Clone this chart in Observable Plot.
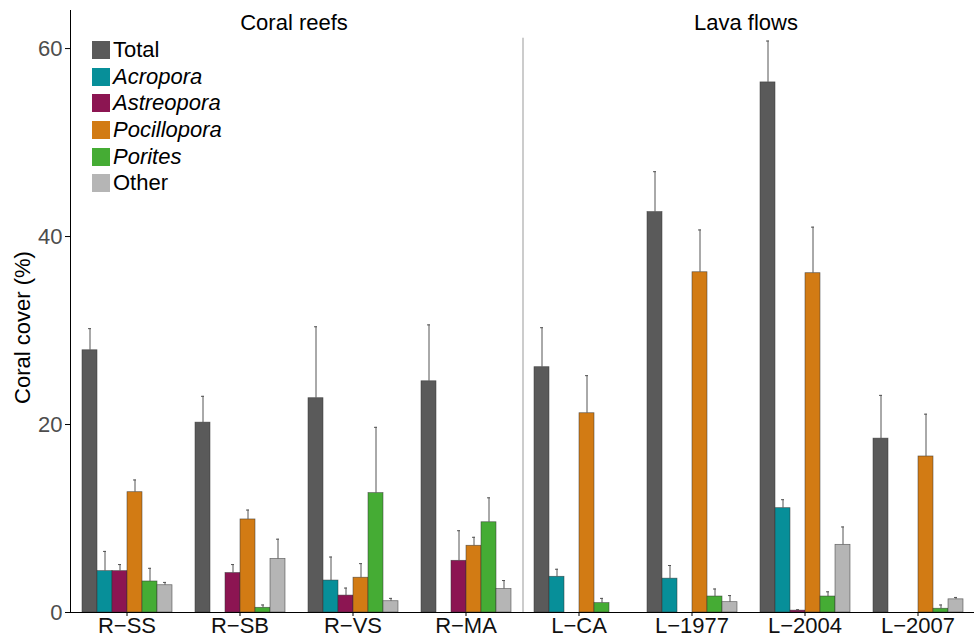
<!DOCTYPE html>
<html><head><meta charset="utf-8">
<script src="https://cdn.jsdelivr.net/npm/d3@7"></script>
<script src="https://cdn.jsdelivr.net/npm/@observablehq/plot@0.6"></script>
<style>
body{margin:0;background:#fff;font-family:"Liberation Sans",Arial,sans-serif}
#wrap{position:relative;width:975px;height:638px}
.legend{position:absolute;left:92px;top:37px;font-size:22px;color:#000}
.legend .row{display:flex;align-items:center;height:26.6px}
.legend .sw{width:18px;height:18px;margin-right:3px;display:inline-block}
.legend .it{font-style:italic}
.strip{position:absolute;top:10px;font-size:22px;transform:translateX(-50%);white-space:nowrap;color:#000}
svg [aria-label="y-axis tick label"] text{fill:#4d4d4d}
svg [aria-label="fx-axis tick label"] text{fill:#111}
svg [aria-label="y-axis label"] text{font-size:22px;fill:#000}
</style></head><body><div id="wrap"></div>
<script>
const sites = ["R\u2212SS","R\u2212SB","R\u2212VS","R\u2212MA","L\u2212CA","L\u22121977","L\u22122004","L\u22122007"];
const taxa = ["Total","Acropora","Astreopora","Pocillopora","Porites","Other"];
const colors = ["#5a5a5a","#078f99","#8c1552","#d27b14","#45ac34","#b5b5b5"];

// mean cover (%) per site, and upper error (value + error)
const totalMean       = [27.9, 20.2, 22.8, 24.6, 26.1, 42.6, 56.4, 18.5];
const totalErr        = [30.2, 23.0, 30.4, 30.6, 30.3, 46.9, 60.8, 23.1];
const acroporaMean    = [4.4, 0, 3.4, 0, 3.8, 3.6, 11.1, 0];
const acroporaErr     = [6.5, 0, 5.9, 0, 4.6, 5.0, 12.0, 0];
const astreoporaMean  = [4.4, 4.2, 1.8, 5.5, 0, 0, 0.2, 0];
const astreoporaErr   = [5.1, 5.1, 2.6, 8.7, 0, 0, 0.3, 0];
const pocilloporaMean = [12.8, 9.9, 3.7, 7.1, 21.2, 36.2, 36.1, 16.6];
const pocilloporaErr  = [14.1, 10.9, 5.2, 8.0, 25.2, 40.7, 41.0, 21.1];
const poritesMean     = [3.3, 0.5, 12.7, 9.6, 1.0, 1.7, 1.7, 0.4];
const poritesErr      = [4.7, 0.8, 19.7, 12.2, 1.5, 2.5, 2.2, 0.8];
const otherMean       = [2.9, 5.7, 1.2, 2.5, 0, 1.1, 7.2, 1.4];
const otherErr        = [3.2, 7.8, 1.5, 3.4, 0, 1.8, 9.1, 1.6];

const groupTitles = ["Coral reefs", "Lava flows"];

const means = [totalMean, acroporaMean, astreoporaMean, pocilloporaMean, poritesMean, otherMean];
const errs  = [totalErr, acroporaErr, astreoporaErr, pocilloporaErr, poritesErr, otherErr];

const rows = [];
taxa.forEach((t, j) => sites.forEach((s, i) => {
  rows.push({site: s, taxon: t, value: means[j][i], upper: errs[j][i]});
}));
const errRows = rows.filter(d => d.upper > d.value);

const plot = Plot.plot({
  width: 975,
  height: 638,
  marginLeft: 68,
  marginRight: 0,
  marginTop: 10,
  marginBottom: 26,
  style: {fontSize: "22px", fontFamily: "Liberation Sans, Arial, sans-serif", background: "#fff", color: "#000"},
  fx: {domain: sites, padding: 0, axis: "bottom", label: null, tickSize: 4, tickPadding: 1},
  x: {domain: taxa, axis: null, paddingInner: 0, paddingOuter: 0.75},
  y: {domain: [0, 64.05], ticks: [0, 20, 40, 60], tickSize: 5, tickPadding: 3, label: "Coral cover (%)", labelAnchor: "center", labelArrow: "none", labelOffset: 56, line: true, grid: false},
  color: {domain: taxa, range: colors},
  marks: [
    Plot.barY(rows, {fx: "site", x: "taxon", y: "value", fill: "taxon", stroke: "#333", strokeWidth: 0.7, strokeOpacity: 0.7}),
    Plot.ruleX(errRows, {fx: "site", x: "taxon", y1: "value", y2: "upper", stroke: "#555", strokeWidth: 1}),
    Plot.tickY(errRows, {fx: "site", x: "taxon", y: "upper", stroke: "#555", strokeWidth: 1, insetLeft: 6, insetRight: 6}),
    Plot.ruleX([{site: sites[4]}], {fx: "site", x: () => "Total", dx: -19, y1: 0, y2: 61.1, stroke: "#999", strokeWidth: 1}),
    Plot.ruleY(sites.map(s => ({site: s, y: 0})), {fx: "site", y: "y", stroke: "#000", strokeWidth: 1})
  ]
});

const wrap = document.getElementById("wrap");
wrap.appendChild(plot);

// nudge the y-axis title down to match the reference placement
const yl = plot.querySelector('[aria-label="y-axis label"]');
if (yl) {
  const t = yl.getAttribute("transform") || "";
  yl.setAttribute("transform", (t + " translate(0,16)").trim());
}

// legend inside the panel
const legend = document.createElement("div");
legend.className = "legend";
taxa.forEach((t, j) => {
  const r = document.createElement("div");
  r.className = "row";
  r.innerHTML = `<span class="sw" style="background:${colors[j]}"></span><span class="${j === 0 || j === 5 ? "" : "it"}">${t}</span>`;
  legend.appendChild(r);
});
wrap.appendChild(legend);

// group strip titles
[[groupTitles[0], 294], [groupTitles[1], 746]].forEach(([t, x]) => {
  const d = document.createElement("div");
  d.className = "strip";
  d.style.left = x + "px";
  d.textContent = t;
  wrap.appendChild(d);
});
</script></body></html>
